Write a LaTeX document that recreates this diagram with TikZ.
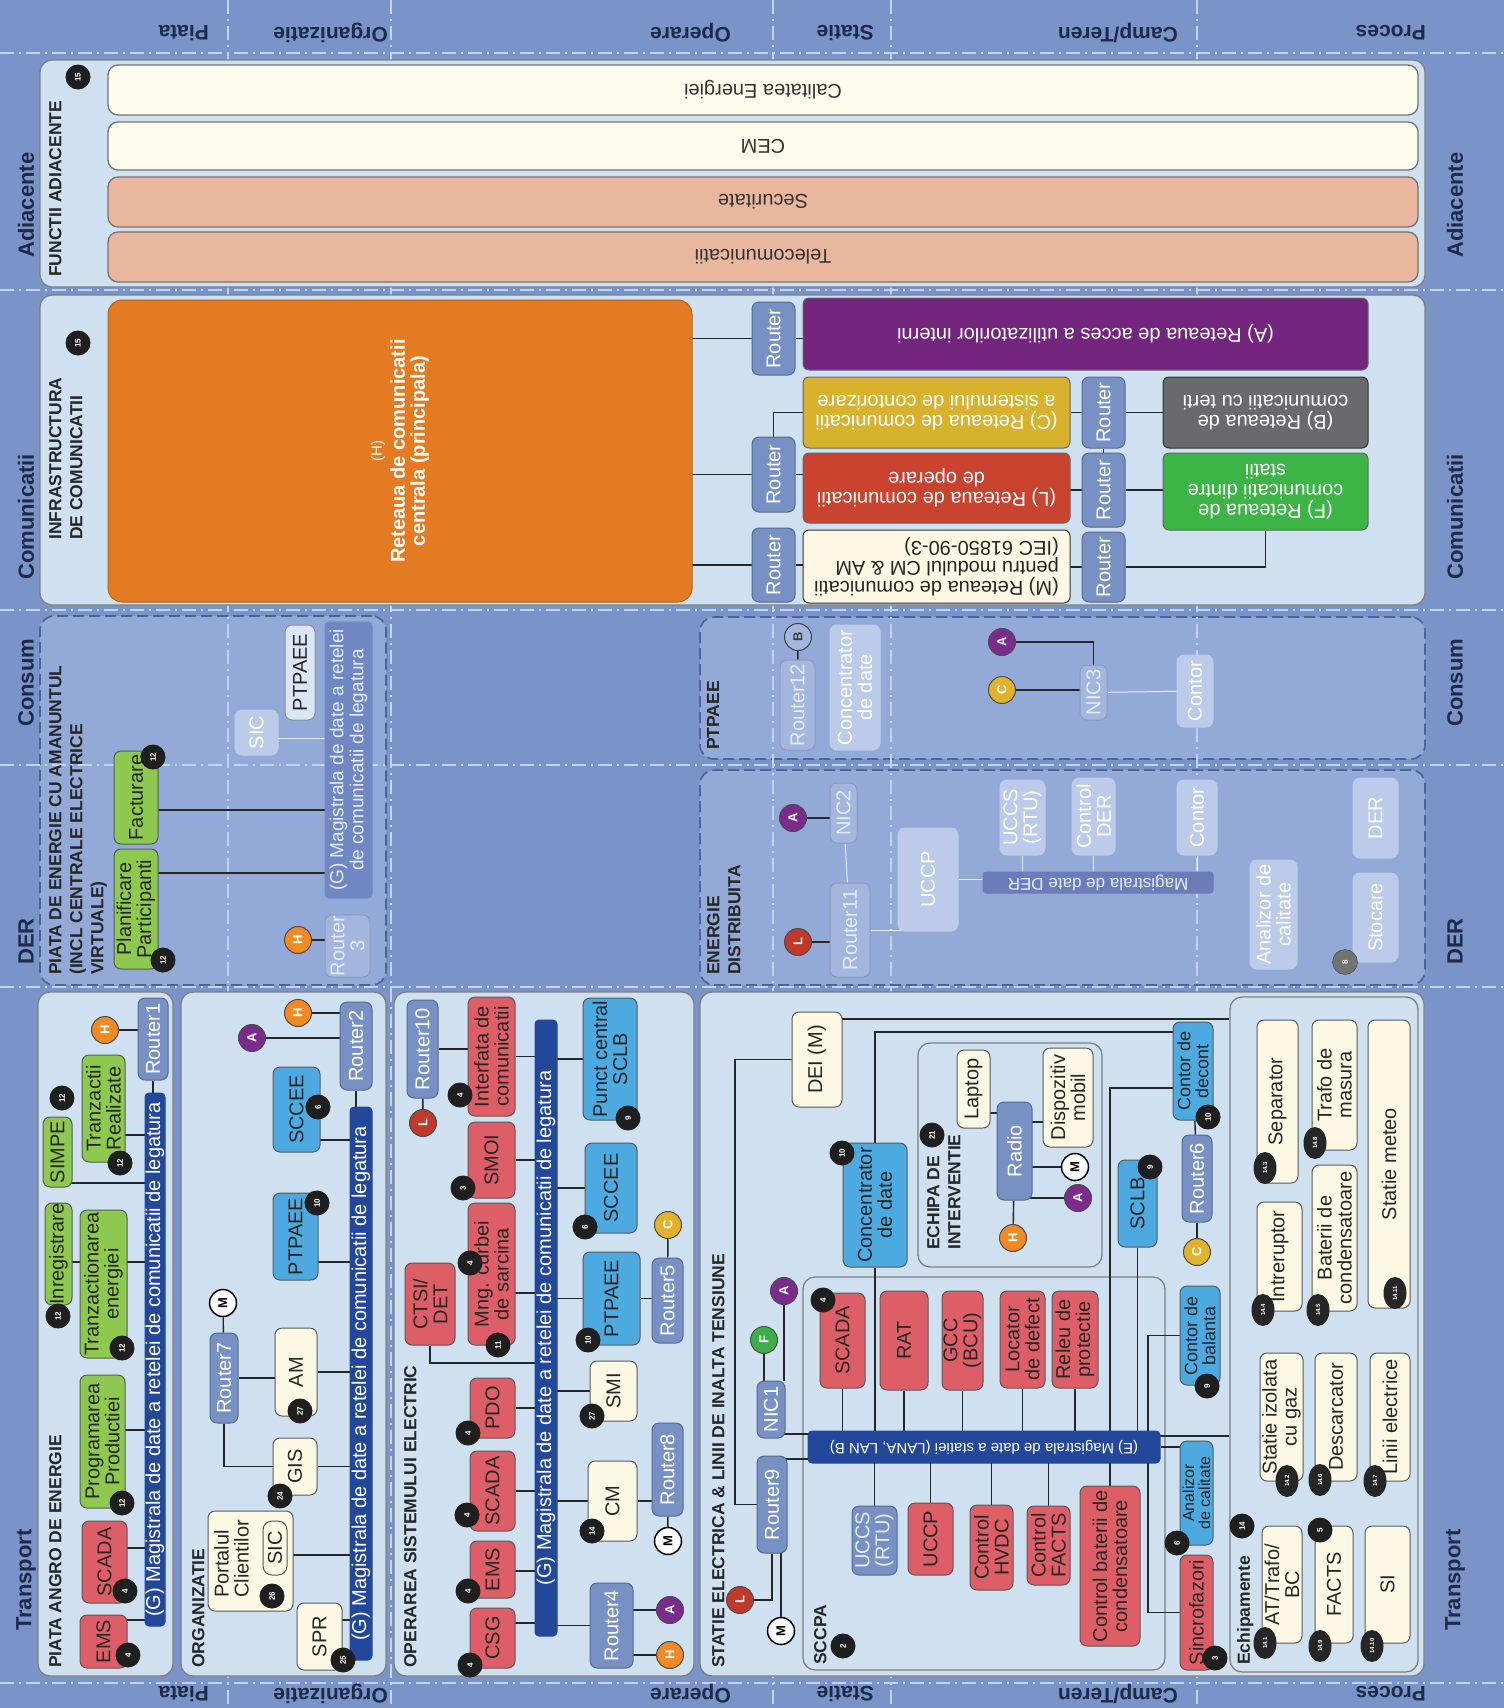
\documentclass[tikz,border=0pt]{standalone}
\usepackage{fontspec}
\setmainfont{Liberation Sans}
\usetikzlibrary{shapes.geometric}
\definecolor{bgblue}{HTML}{7A93C8}
\definecolor{pnlf}{HTML}{CFE1F1}
\definecolor{dashf}{HTML}{93A9D8}
\definecolor{dashc}{HTML}{4F6396}
\definecolor{sepc}{HTML}{C3D4EF}
\definecolor{lblc}{HTML}{1E2A48}
\definecolor{redf}{HTML}{DE5E68}
\definecolor{grnf}{HTML}{8DC94E}
\definecolor{bluf}{HTML}{4DAAE0}
\definecolor{crmf}{HTML}{FCF8E4}
\definecolor{rtf}{HTML}{7891C4}
\definecolor{rtd}{HTML}{56698F}
\definecolor{busf}{HTML}{23489A}
\definecolor{orgf}{HTML}{E47B22}
\definecolor{purf}{HTML}{74267F}
\definecolor{yelf}{HTML}{D8B22C}
\definecolor{redn}{HTML}{C9432F}
\definecolor{gryf}{HTML}{69696E}
\definecolor{grnn}{HTML}{3DB446}
\definecolor{salf}{HTML}{E9B79E}
\definecolor{crm2}{HTML}{FDFBEC}
\definecolor{dimf}{HTML}{BDCBEA}
\definecolor{dimr}{HTML}{A3B6DE}
\definecolor{dimt}{HTML}{E4EBF7}
\definecolor{vbus}{HTML}{7187C4}
\definecolor{dbus}{HTML}{6B7DB8}
\definecolor{hbad}{HTML}{F08A24}
\definecolor{abad}{HTML}{7A2B8B}
\definecolor{lbad}{HTML}{C0392B}
\definecolor{cbad}{HTML}{E2B22E}
\definecolor{fbad}{HTML}{3FAE49}
\pgfdeclarelayer{back}
\pgfdeclarelayer{sep}
\pgfdeclarelayer{panel}
\pgfdeclarelayer{wire}
\pgfsetlayers{back,sep,panel,wire,main}

\begin{document}
\begin{tikzpicture}[
    x=1pt, y=-1pt,
    font=\fontsize{20}{20}\selectfont,
    sz/.style 2 args={minimum height=#1pt, minimum width=#2pt},
    szr/.style 2 args={minimum width=#1pt, minimum height=#2pt},
    bx/.style={draw=black!65, line width=1pt, rounded corners=7pt, rotate=90, align=center, inner sep=1pt, text=black!85},
    redbox/.style={bx, fill=redf},
    grnbox/.style={bx, fill=grnf},
    blubox/.style={bx, fill=bluf},
    crmbox/.style={bx, fill=crmf},
    router/.style={bx, fill=rtf, draw=rtd, text=white},
    gbus/.style={bx, fill=busf, draw=busf, text=white, rounded corners=4pt, inner sep=0pt},
    dimrt/.style={bx, fill=dimr, draw=dimr!85!black, text=dimt},
    dimbox/.style={bx, fill=dimf, draw=dimf, text=white},
    net/.style={draw=black!60, line width=1pt, rounded corners=6pt, rotate=180, align=center, text=white, inner sep=1pt},
    adi/.style={draw=black!55, line width=1.3pt, rounded corners=10pt, rotate=180, text=black!80},
    pnl/.style={draw=black!50, fill=pnlf, line width=1.3pt, rounded corners=12pt, inner sep=0pt},
    dpnl/.style={draw=dashc, fill=dashf, line width=1.6pt, dash pattern=on 11pt off 5pt, rounded corners=14pt, inner sep=0pt},
    ttl/.style={rotate=90, anchor=north west, inner sep=0pt, align=left, text=black!85, font=\bfseries\fontsize{17.5}{21}\selectfont},
    zone/.style={rotate=90, anchor=west, inner sep=0pt, text=lblc, font=\bfseries\fontsize{22}{22}\selectfont},
    rowlbl/.style={rotate=180, anchor=west, inner sep=0pt, text=lblc, font=\bfseries\fontsize{21}{21}\selectfont},
    num/.style={circle, fill=black!88, text=white, font=\bfseries\fontsize{8}{8}\selectfont, inner sep=0pt, minimum size=25pt, rotate=90},
    subnum/.style={ellipse, fill=black!85, text=white, font=\bfseries\fontsize{6}{6}\selectfont, inner sep=0pt, minimum width=32pt, minimum height=23pt, rotate=90},
    ltr/.style={circle, draw=black!70, line width=1pt, text=white, font=\bfseries\fontsize{13}{13}\selectfont, inner sep=0pt, minimum size=27pt, rotate=90},
    hb/.style={ltr, fill=hbad}, ab/.style={ltr, fill=abad}, lb/.style={ltr, fill=lbad},
    cb/.style={ltr, fill=cbad}, fb/.style={ltr, fill=fbad},
    mb/.style={ltr, fill=white, text=black, draw=black, line width=1.5pt},
    wire/.style={draw=black!85, line width=1.4pt},
    faint/.style={draw=dimt, line width=1pt},
    sepl/.style={draw=sepc, line width=1.6pt, dash pattern=on 14pt off 5pt on 2pt off 5pt}
]
\useasboundingbox (0,0) rectangle (1504,1708);

\begin{pgfonlayer}{back}
\fill[bgblue] (0,0) rectangle (1504,1708);
\node[dpnl, minimum width=346pt, minimum height=369pt] (pVpp) at (213,800.5) {};
\node[dpnl, minimum width=725pt, minimum height=142pt] (pPtp) at (1062.5,688) {};
\node[dpnl, minimum width=725pt, minimum height=215pt] (pDer) at (1062.5,877.5) {};
\end{pgfonlayer}
\begin{pgfonlayer}{sep}
\foreach \xs in {228,391,773,891,1197} \draw[sepl] (\xs,0) -- (\xs,1708);
\foreach \ys in {53,290,610,765,987,1683} \draw[sepl] (0,\ys) -- (1504,\ys);
\end{pgfonlayer}
\begin{pgfonlayer}{panel}
\node[pnl, minimum width=1385pt, minimum height=227pt] (pAdi) at (732.5,173.5) {};
\node[pnl, minimum width=1385pt, minimum height=310pt] (pCom) at (732.5,450) {};
\node[pnl, minimum width=135pt, minimum height=684pt] (pAngro) at (105.5,1334) {};
\node[pnl, minimum width=205pt, minimum height=684pt] (pOrg) at (283.5,1334) {};
\node[pnl, minimum width=300pt, minimum height=684pt] (pOper) at (544,1334) {};
\node[pnl, minimum width=724pt, minimum height=684pt] (pStat) at (1062,1334) {};
\node[pnl, minimum width=362pt, minimum height=393pt] (pSccpa) at (984,1473.5) {};
\node[pnl, minimum width=184pt, minimum height=224pt] (pEchipa) at (1010,1155) {};
\node[pnl, minimum width=188pt, minimum height=675pt] (pEchip) at (1324,1334.5) {};
\end{pgfonlayer}

\foreach \yy/\tx in {258/Adiacente,580/Comunicatii,727/Consum,965/DER,1631/Transport}{
  \node[zone] (zL\yy) at (26,\yy) {\tx};
  \node[zone] (zR\yy) at (1455,\yy) {\tx};
}
\foreach \xx/\tx in {209/Piata,388/Organizatie,731/Operare,874/Statie,1178/{Camp/Teren},1426/Proces}{
  \node[rowlbl] (rT\xx) at (\xx,33) {\tx};
  \node[rowlbl] (rB\xx) at (\xx,1694) {\tx};
}

\node[ttl] (tAdi) at (49,277) {FUNCTII ADIACENTE};
\node[ttl] (tCom) at (49,540) {INFRASTRUCTURA\\DE COMUNICATII};
\node[ttl] (tVpp) at (49,975) {PIATA DE ENERGIE CU AMANUNTUL\\(INCL CENTRALE ELECTRICE\\VIRTUALE)};
\node[ttl] (tAngro) at (49,1668) {PIATA ANGRO DE ENERGIE};
\node[ttl] (tOrg) at (192,1668) {ORGANIZATIE};
\node[ttl] (tOper) at (404,1668) {OPERAREA SISTEMULUI ELECTRIC};
\node[ttl] (tStat) at (712,1668) {STATIE ELECTRICA \& LINII DE INALTA TENSIUNE};
\node[ttl] (tDer) at (707,975) {ENERGIE\\DISTRIBUITA};
\node[ttl] (tPtp) at (707,750) {PTPAEE};
\node[ttl] (tSccpa) at (814,1665) {SCCPA};
\node[ttl] (tEchipa) at (927,1250) {ECHIPA DE\\INTERVENTIE};
\node[ttl] (tEchip) at (1237,1665) {Echipamente};

\node[adi, fill=crm2, szr={1310}{50}] (adCal) at (763,90) {Calitatea Energiei};
\node[adi, fill=crm2, szr={1310}{48}] (adCem) at (763,146) {CEM};
\node[adi, fill=salf, szr={1310}{50}] (adSec) at (763,202) {Securitate};
\node[adi, fill=salf, szr={1310}{50}] (adTel) at (763,257) {Telecomunicatii};
\node[num] (n15a) at (78,77) {15};

\node[bx, fill=orgf, draw=orgf!80!black, text=white, rounded corners=14pt, sz={584}{302}] (netH) at (400,451)
  {{\fontsize{15}{15}\selectfont (H)}\\[3pt]\textbf{Reteaua de comunicatii}\\\textbf{centrala (principala)}};
\node[router, sz={43}{73}] (rtA) at (773.5,338.5) {Router};
\node[router, sz={43}{75}] (rtL) at (773.5,474.5) {Router};
\node[router, sz={43}{74}] (rtM) at (773.5,565) {Router};
\node[router, sz={43}{71}] (rtB) at (1103.5,412.5) {Router};
\node[router, sz={43}{74}] (rtF) at (1103.5,490) {Router};
\node[router, sz={43}{70}] (rtM2) at (1103.5,567) {Router};
\node[net, fill=purf, szr={565}{72}] (netA) at (1085.5,334) {(A) Reteaua de acces a utilizatorilor interni};
\node[net, fill=yelf, szr={267}{71}] (netC) at (936.5,412.5) {(C) Reteaua de comunicatii\\a sistemului de contorizare};
\node[net, fill=redn, szr={267}{70}] (netL) at (936.5,488) {(L) Reteaua de comunicatii\\de operare};
\node[net, fill=crmf, text=black!85, draw=black!80, align=left, szr={267}{73}] (netM) at (936.5,566.5) {(M) Reteaua de comunicatii\\pentru modulul CM \& AM\\(IEC 61850-90-3)};
\node[net, fill=gryf, draw=black!80, szr={205}{71}] (netB) at (1265.5,412.5) {(B) Reteaua de\\comunicatii cu terti};
\node[net, fill=grnn, szr={205}{77}] (netF) at (1265.5,491.5) {(F) Reteaua de\\comunicatii dintre\\statii};
\node[num] (n15b) at (78,343) {15};

\node[grnbox, sz={44}{120}] (vPlan) at (136,909) {Planificare\\Participanti};
\node[grnbox, sz={44}{93}] (vFact) at (136,797.5) {Facturare};
\node[gbus, fill=vbus, draw=vbus, text=dimt, sz={47}{276}, font=\fontsize{19}{20}\selectfont] (vG) at (348.5,760) {(G) Magistrala de date a retelei\\de comunicatii de legatura};
\node[dimrt, sz={45}{58}] (vRt3) at (347.5,946) {Router\\3};
\node[hb] (vH) at (298,940) {H};
\node[dimbox, sz={43}{45}] (vSIC) at (256.5,732.5) {SIC};
\node[bx, fill=dimt!80!dimf, draw=dimf!70!black, sz={30}{95}, inner sep=0pt] (vPTP) at (300,672.5) {PTPAEE};
\node[num] (n12v) at (153,757) {12};
\node[num] (n12w) at (163,960) {12};

\node[ltr, fill=dimr, text=black!75, draw=black!75] (pB) at (798,637) {B};
\node[dimrt, sz={35}{90}] (pRt12) at (797.5,705) {Router12};
\node[dimbox, sz={50}{125}] (pConc) at (855,687.5) {Concentrator\\de date};
\node[ab] (pA) at (1002,642) {A};
\node[cb] (pC) at (1002,690) {C};
\node[dimrt, sz={27}{55}] (pNIC3) at (1093.5,692.5) {NIC3};
\node[dimbox, sz={36}{72}] (pCont) at (1195,691) {Contor};

\node[lb] (dL) at (798,942) {L};
\node[dimrt, sz={40}{94}] (dRt11) at (850,930) {Router11};
\node[dimbox, sz={60}{103}] (dUCCP) at (928,879.5) {UCCP};
\node[net, fill=dbus, draw=dbus, text=dimt, rounded corners=3pt, szr={230}{21}, font=\fontsize{17}{17}\selectfont, inner sep=0pt] (dBus) at (1098,882.5) {Magistrala de date DER};
\node[dimrt, sz={27}{60}] (dNIC2) at (843.5,813) {NIC2};
\node[ab] (dA) at (793,818) {A};
\node[dimbox, sz={45}{75}] (dUCCS) at (1022.5,817.5) {UCCS\\(RTU)};
\node[dimbox, sz={43}{77}] (dCtl) at (1093.5,816.5) {Control\\DER};
\node[dimbox, sz={40}{75}] (dCont) at (1197,817.5) {Contor};
\node[dimbox, sz={45}{80}] (dDER) at (1375.5,818) {DER};
\node[dimbox, sz={47}{109}] (dAna) at (1273.5,914.5) {Analizor de\\calitate};
\node[dimbox, sz={45}{89}] (dSto) at (1375.5,917.5) {Stocare};
\node[num, fill=black!55, draw=black!75] (n8) at (1345,962) {8};

\node[redbox, sz={47}{53}] (aEMS) at (103.5,1641.5) {EMS};
\node[redbox, sz={45}{82}] (aSCADA) at (104.5,1562) {SCADA};
\node[grnbox, sz={45}{133}] (aProg) at (102.5,1441.5) {Programarea\\Productiei};
\node[grnbox, sz={47}{148}] (aTranz) at (103.5,1284) {Tranzactionarea\\energiei};
\node[grnbox, sz={27}{102}, inner sep=0pt] (aInreg) at (58.5,1254) {Inregistrare};
\node[grnbox, sz={29}{70}] (aSIMPE) at (57.5,1152) {SIMPE};
\node[grnbox, sz={43}{107}] (aReal) at (103.5,1108.5) {Tranzactii\\Realizate};
\node[router, sz={30}{82}] (aRt1) at (153,1039) {Router1};
\node[hb] (aH) at (105,1030) {H};
\node[gbus, sz={20}{533}] (aG) at (155,1359.5) {(G) Magistrala de date a retelei de comunicatii de legatura};
\node[num] (n4a) at (128,1655) {4};
\node[num] (n4b) at (125,1591) {4};
\node[num] (n12a) at (122,1503) {12};
\node[num] (n12b) at (122,1348) {12};
\node[num] (n12c) at (58,1316) {12};
\node[num] (n12d) at (62,1098) {12};
\node[num] (n12e) at (120,1163) {12};

\node[gbus, sz={22}{553}] (oG) at (361,1383.5) {(G) Magistrala de date a retelei de comunicatii de legatura};
\node[crmbox, sz={45}{67}] (oSPR) at (319.5,1636.5) {SPR};
\node[crmbox, sz={85}{100}] (oPort) at (250.5,1561) {};
\node[rotate=90, anchor=north west, inner sep=0pt, align=left, text=black!85] (oPortT) at (214,1598) {Portalul\\Clientilor};
\node[crmbox, sz={24}{54}, rounded corners=9pt, inner sep=0pt] (oSIC) at (275,1548) {SIC};
\node[crmbox, sz={44}{57}] (oGIS) at (295,1466.5) {GIS};
\node[crmbox, sz={42}{88}] (oAM) at (296,1372) {AM};
\node[router, sz={28}{90}] (oRt7) at (224,1378) {Router7};
\node[mb] (oM) at (223,1303) {M};
\node[blubox, sz={45}{87}] (oPTP) at (295.5,1236.5) {PTPAEE};
\node[blubox, sz={47}{85}] (oSCC) at (296.5,1109.5) {SCCEE};
\node[router, sz={32}{88}] (oRt2) at (356,1046) {Router2};
\node[hb] (oH) at (298,1013) {H};
\node[ab] (oA) at (252,1038) {A};
\node[num] (n25) at (343,1660) {25};
\node[num] (n26) at (272,1596) {26};
\node[num] (n24) at (280,1496) {24};
\node[num] (n27o) at (300,1411) {27};
\node[num] (n10o) at (317,1203) {10};
\node[num] (n6o) at (318,1107) {6};

\node[gbus, sz={22}{616}] (eG) at (546,1328) {(G) Magistrala de date a retelei de comunicatii de legatura};
\node[redbox, sz={45}{60}] (eCSG) at (492.5,1638) {CSG};
\node[redbox, sz={45}{57}] (eEMS) at (492.5,1569.5) {EMS};
\node[redbox, sz={45}{80}] (eSCADA) at (492.5,1491) {SCADA};
\node[redbox, sz={45}{60}] (ePDO) at (492.5,1408) {PDO};
\node[redbox, sz={50}{82}] (eCTSI) at (430,1304) {CTSI/\\DET};
\node[redbox, sz={47}{142}] (eMng) at (491.5,1274) {Mng. curbei\\de sarcina};
\node[redbox, sz={47}{76}] (eSMOI) at (491.5,1160) {SMOI};
\node[redbox, sz={47}{119}] (eIntf) at (491.5,1056.5) {Interfata de\\comunicatii};
\node[router, sz={31}{98}] (eRt10) at (422.5,1049) {Router10};
\node[lb] (eL) at (423,1123) {L};
\node[blubox, sz={54}{122}] (ePCS) at (610,1059) {Punct central\\SCLB};
\node[blubox, sz={52}{90}] (eSCC) at (611,1188) {SCCEE};
\node[blubox, sz={57}{93}] (ePTP) at (611.5,1298.5) {PTPAEE};
\node[router, sz={31}{85}] (eRt5) at (667.5,1300.5) {Router5};
\node[cb] (eC) at (668,1225) {C};
\node[crmbox, sz={47}{60}] (eSMI) at (613.5,1391) {SMI};
\node[crmbox, sz={49}{80}] (eCM) at (612.5,1501) {CM};
\node[router, sz={31}{93}] (eRt8) at (667.5,1469.5) {Router8};
\node[mb] (eM) at (668,1541) {M};
\node[router, sz={43}{85}] (eRt4) at (611.5,1625.5) {Router4};
\node[ab] (eA) at (670,1610) {A};
\node[hb] (eH) at (670,1655) {H};
\node[num] (n4c) at (470,1665) {4};
\node[num] (n4d) at (468,1591) {4};
\node[num] (n4e) at (467,1515) {4};
\node[num] (n4f) at (468,1433) {4};
\node[num] (n4g) at (470,1263) {4};
\node[num] (n11) at (498,1345) {11};
\node[num] (n3e) at (463,1188) {3};
\node[num] (n4h) at (460,1095) {4};
\node[num] (n9e) at (628,1118) {9};
\node[num] (n6e) at (585,1227) {6};
\node[num] (n10e) at (588,1340) {10};
\node[num] (n27e) at (592,1416) {27};
\node[num] (n14c) at (592,1531) {14};

\node[crmbox, sz={50}{95}] (sDEI) at (817,1059.5) {DEI (M)};
\node[router, sz={30}{97}] (sRt9) at (772,1504.5) {Router9};
\node[router, sz={28}{57}] (sNIC1) at (771,1409.5) {NIC1};
\node[fb] (sF) at (764,1340) {F};
\node[ab] (sA) at (784,1291) {A};
\node[lb] (sL) at (740,1600) {L};
\node[mb] (sM) at (781,1631) {M};
\node[net, fill=busf, draw=busf, rounded corners=4pt, szr={352}{32}, font=\fontsize{15}{15}\selectfont, inner sep=0pt] (sE) at (984,1447) {(E) Magistrala de date a statiei (LANA, LAN B)};
\node[redbox, sz={45}{95}] (sSCADA) at (842.5,1340.5) {SCADA};
\node[redbox, sz={48}{99}] (sRAT) at (904,1340.5) {RAT};
\node[redbox, sz={41}{99}, inner sep=0pt] (sGCC) at (962.5,1340.5) {GCC\\(BCU)};
\node[redbox, sz={45}{97}] (sLoc) at (1022.5,1339.5) {Locator\\de defect};
\node[redbox, sz={46}{97}] (sRel) at (1075,1339.5) {Releu de\\protectie};
\node[router, text=dimt, sz={45}{69}] (sUCCS) at (874.5,1540.5) {UCCS\\(RTU)};
\node[redbox, sz={45}{72}] (sUCCP) at (930.5,1539) {UCCP};
\node[redbox, sz={43}{85}] (sHVDC) at (991.5,1547.5) {Control\\HVDC};
\node[redbox, sz={43}{79}] (sFACTS) at (1048.5,1545.5) {Control\\FACTS};
\node[redbox, sz={60}{160}] (sCBat) at (1110,1566) {Control baterii de\\condensatoare};
\node[blubox, sz={64}{124}] (sConc) at (875,1205) {Concentrator\\de date};
\node[crmbox, sz={33}{78}] (sLap) at (973.5,1089) {Laptop};
\node[router, sz={35}{98}] (sRadio) at (1014.5,1151) {Radio};
\node[crmbox, sz={50}{99}] (sDisp) at (1068,1097.5) {Dispozitiv\\mobil};
\node[mb] (sM2) at (1075,1167) {M};
\node[ab] (sA2) at (1078,1198) {A};
\node[hb] (sH2) at (1013,1238) {H};
\node[blubox, sz={39}{87}] (sSCLB) at (1137.5,1203.5) {SCLB};
\node[router, sz={30}{87}] (sRt6) at (1197,1178.5) {Router6};
\node[cb] (sC) at (1197,1252) {C};
\node[blubox, sz={40}{98}, font=\fontsize{18}{18}\selectfont] (sDec) at (1193,1071) {Contor de\\decont};
\node[blubox, sz={33}{104}, inner sep=0pt, font=\fontsize{16}{16}\selectfont] (sAna) at (1196.5,1493) {Analizor\\de calitate};
\node[blubox, sz={40}{99}, font=\fontsize{18}{18}\selectfont] (sBal) at (1200,1335.5) {Contor de\\balanta};
\node[redbox, sz={33}{115}] (sSinc) at (1196.5,1612.5) {Sincrofazori};
\node[num] (n4s) at (823,1300) {4};
\node[num] (n2) at (843,1646) {2};
\node[num] (n10s) at (842,1153) {10};
\node[num] (n21) at (932,1135) {21};
\node[num] (n9s) at (1150,1167) {9};
\node[num] (n10d) at (1208,1117) {10};
\node[num] (n6s) at (1177,1543) {6};
\node[num] (n9b) at (1207,1386) {9};
\node[num] (n3s) at (1215,1658) {3};

\node[crmbox, sz={41}{163}] (qSep) at (1277.5,1101.5) {Separator};
\node[crmbox, sz={45}{130}] (qTrafo) at (1334.5,1085) {Trafo de\\masura};
\node[crmbox, sz={42}{288}] (qMeteo) at (1389,1164) {Statie meteo};
\node[crmbox, sz={45}{109}] (qIntr) at (1279.5,1256.5) {Intreruptor};
\node[crmbox, sz={45}{146}] (qBat) at (1334.5,1238) {Baterii de\\condensatoare};
\node[crmbox, sz={43}{128}] (qGis) at (1281.5,1417) {Statie izolata\\cu gaz};
\node[crmbox, sz={42}{128}] (qDesc) at (1336,1417) {Descarcator};
\node[crmbox, sz={40}{128}] (qLin) at (1390,1417) {Linii electrice};
\node[crmbox, sz={40}{117}] (qAT) at (1282,1584.5) {AT/Trafo/\\BC};
\node[crmbox, sz={38}{117}] (qFacts) at (1334,1584.5) {FACTS};
\node[crmbox, sz={45}{117}] (qSI) at (1387.5,1584.5) {SI};
\node[subnum] (b143) at (1265,1168) {14.3};
\node[subnum] (b148) at (1315,1143) {14.8};
\node[subnum] (b144) at (1263,1310) {14.4};
\node[subnum] (b145) at (1318,1310) {14.5};
\node[subnum] (b1411) at (1395,1293) {14.11};
\node[subnum] (b142) at (1287,1481) {14.2};
\node[subnum] (b146) at (1320,1480) {14.6};
\node[subnum] (b147) at (1375,1481) {14.7};
\node[subnum] (b141) at (1265,1643) {14.1};
\node[subnum] (b149) at (1320,1646) {14.9};
\node[subnum] (b1410) at (1372,1646) {14.10};
\node[num] (n5) at (1320,1530) {5};
\node[num] (n14q) at (1242,1526) {14};

\begin{pgfonlayer}{wire}
\draw[wire] (rtA) -- (rtA -| netH);
\draw[wire] (rtA) -- (rtA -| netA);
\draw[wire] (rtL) -- (rtL -| netH);
\draw[wire] (rtL) -- (rtL -| netL);
\draw[wire] (netC) -| (rtL);
\draw[wire] (rtM) -- (rtM -| netH);
\draw[wire] (rtM) -- (rtM -| netM);
\draw[wire] (netC) -- (rtB);
\draw[wire] (rtB) -- (netB);
\draw[wire] (rtB) -- (rtF);
\draw[wire] (rtF) -- (rtF -| netL);
\draw[wire] (rtF) -- (rtF -| netF);
\draw[wire] (rtM2) -- (rtM2 -| netM);
\draw[wire] (rtM2) -| (netF);

\draw[wire] (vPlan |- 0,873) -- (vG |- 0,873);
\draw[wire] (vFact |- 0,810) -- (vG |- 0,810);
\draw[wire] (vH) -- (vRt3 |- vH);
\draw[faint] (vSIC |- 0,738) -- (vG |- 0,738);

\draw[wire] (pB) -- (pRt12);
\draw[wire] (pA) -| (pNIC3);
\draw[wire] (pC) -- (pC -| pNIC3);
\draw[faint] (pNIC3) -- (pCont);

\draw[wire] (dL) -- (dL -| dRt11);
\draw[wire] (dA) -- (dA -| dNIC2);
\draw[faint] (dNIC2) -- (dRt11);
\draw[faint] (dRt11) -- (dRt11 -| dUCCP);
\draw[faint] (dUCCP) -- (dUCCP -| dBus);
\draw[faint] (dUCCS) -- (dUCCS |- dBus);
\draw[faint] (dCtl) -- (dCtl |- dBus);
\draw[faint] (dCont) -- (dCont |- dBus);

\draw[wire] (aEMS |- 0,1620) -- (aG |- 0,1620);
\draw[wire] (aSCADA |- 0,1548) -- (aG |- 0,1548);
\draw[wire] (aProg |- 0,1430) -- (aG |- 0,1430);
\draw[wire] (aInreg |- 0,1262) -- (aG |- 0,1262);
\draw[wire] (aSIMPE |- 0,1183) -- (aG |- 0,1183);
\draw[wire] (aReal |- 0,1135) -- (aG |- 0,1135);
\draw[wire] (aH) -- (aH -| aRt1);
\draw[wire] (aRt1) -- (aRt1 |- aG);

\draw[wire] (oSPR |- 0,1620) -- (oG |- 0,1620);
\draw[wire] (oPort |- 0,1555) -- (oG |- 0,1555);
\draw[wire] (oGIS) -- (oGIS -| oG);
\draw[wire] (oAM) -- (oAM -| oG);
\draw[wire] (oRt7) -- (oRt7 -| oAM);
\draw[wire] (oRt7) |- (oGIS);
\draw[wire] (oRt7) -- (oM);
\draw[wire] (oPTP |- 0,1262) -- (oG |- 0,1262);
\draw[wire] (oSCC |- 0,1140) -- (oG |- 0,1140);
\draw[wire] (oH) -- (oH -| oRt2);
\draw[wire] (oA) -- (oA -| oRt2);
\draw[wire] (oRt2) -- (oRt2 |- oG);

\draw[wire] (eCSG |- 0,1623) -- (eG |- 0,1623);
\draw[wire] (eEMS |- 0,1571) -- (eG |- 0,1571);
\draw[wire] (eSCADA) -- (eSCADA -| eG);
\draw[wire] (ePDO) -- (ePDO -| eG);
\draw[wire] (eMng |- 0,1293) -- (eG |- 0,1293);
\draw[wire] (eSMOI) -- (eSMOI -| eG);
\draw[wire] (eIntf) -- (eIntf -| eG);
\draw[wire] (eCTSI) |- (eG |- 0,1363);
\draw[wire] (eRt10) -- (eRt10 -| eIntf);
\draw[wire] (eRt10) -- (eL);
\draw[wire] (ePCS) -- (ePCS -| eG);
\draw[wire] (eSCC) -- (eSCC -| eG);
\draw[wire] (ePTP) -- (ePTP -| eG);
\draw[wire] (ePTP) -- (ePTP -| eRt5);
\draw[wire] (eRt5) -- (eC);
\draw[wire] (eSMI) -- (eSMI -| eG);
\draw[wire] (eCM) -- (eCM -| eG);
\draw[wire] (eCM) -- (eCM -| eRt8);
\draw[wire] (eRt8) -- (eM);
\draw[wire] (eRt4) -- (eRt4 -| eG);
\draw[wire] (eA -| eRt4) -- (eA);
\draw[wire] (eH -| eRt4) -- (eH);

\draw[wire] (sDEI) -- (735,1059.5) |- (sRt9);
\draw[wire] (sDEI |- 0,1019) -- (pEchip.west |- 0,1019);
\draw[wire] (sDec |- 0,1032) -| (sConc);
\draw[wire] (sConc) -- (sConc |- sE);
\draw[wire] (sDec |- 0,1088) -| (sE -| 1110,0);
\draw[wire] (sSCLB) -- (sSCLB |- sE);
\draw[wire] (sRt6) -- (sDec);
\draw[wire] (sRt6) -- (sC);
\draw[wire] (sBal) -| (sE -| 1148,0);
\draw[wire] (sSinc) -| (sE -| 1148,0);
\draw[wire] (sAna |- sE) -- (sE);
\draw[wire] (sE |- 0,1436) -- (pEchip.west |- 0,1436);
\foreach \nd in {sSCADA,sRAT,sGCC,sLoc,sRel,sUCCS,sUCCP,sHVDC,sFACTS,sCBat}
  \draw[wire] (\nd) -- (\nd |- sE);
\draw[wire] (sNIC1 |- 0,1434) -- (sE |- 0,1434);
\draw[wire] (sRt9 |- 0,1459) -- (sE |- 0,1459);
\draw[wire] (sF) -- (sF |- sNIC1);
\draw[wire] (sA) -- (sA |- sNIC1.east);
\draw[wire] (sRt9) |- (sL);
\draw[wire] (sM) -- (sM |- sRt9);
\draw[wire] (sLap |- 0,1113) -- (sRadio |- 0,1113);
\draw[wire] (sRadio |- 0,1122) -- (sDisp |- 0,1122);
\draw[wire] (sM2 -| sRadio) -- (sM2);
\draw[wire] (sA2 -| sRadio) -- (sA2);
\draw[wire] (sRadio) -- (sH2);
\end{pgfonlayer}
\end{tikzpicture}
\end{document}
